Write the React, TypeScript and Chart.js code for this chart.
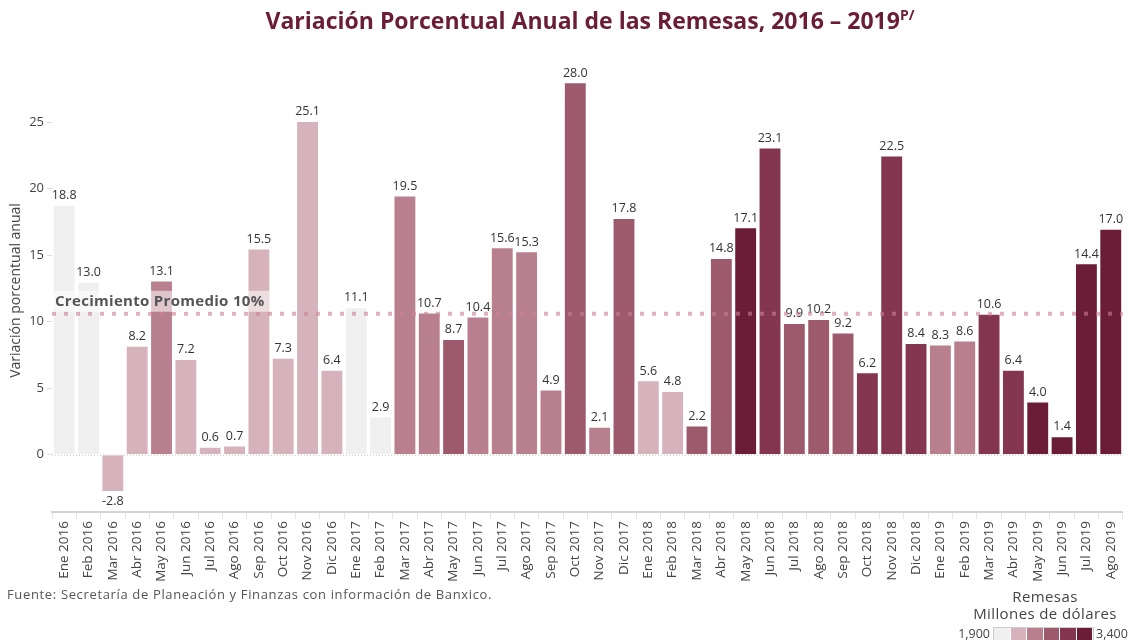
import React, { useEffect, useRef } from "react";
import { Chart, registerables } from "chart.js";

Chart.register(...registerables);

const months: string[] = [
  "Ene 2016", "Feb 2016", "Mar 2016", "Abr 2016", "May 2016", "Jun 2016", "Jul 2016", "Ago 2016", "Sep 2016", "Oct 2016", "Nov 2016", "Dic 2016",
  "Ene 2017", "Feb 2017", "Mar 2017", "Abr 2017", "May 2017", "Jun 2017", "Jul 2017", "Ago 2017", "Sep 2017", "Oct 2017", "Nov 2017", "Dic 2017",
  "Ene 2018", "Feb 2018", "Mar 2018", "Abr 2018", "May 2018", "Jun 2018", "Jul 2018", "Ago 2018", "Sep 2018", "Oct 2018", "Nov 2018", "Dic 2018",
  "Ene 2019", "Feb 2019", "Mar 2019", "Abr 2019", "May 2019", "Jun 2019", "Jul 2019", "Ago 2019",
];

const variacion: number[] = [
  18.8, 13.0, -2.8, 8.2, 13.1, 7.2, 0.6, 0.7, 15.5, 7.3, 25.1, 6.4,
  11.1, 2.9, 19.5, 10.7, 8.7, 10.4, 15.6, 15.3, 4.9, 28.0, 2.1, 17.8,
  5.6, 4.8, 2.2, 14.8, 17.1, 23.1, 9.9, 10.2, 9.2, 6.2, 22.5, 8.4,
  8.3, 8.6, 10.6, 6.4, 4.0, 1.4, 14.4, 17.0,
];

// Remittance-level bin (0 = 1,900 ... 5 = 3,400 millones de dólares)
const nivelRemesas: number[] = [
  0, 0, 1, 1, 2, 1, 1, 1, 1, 1, 1, 1,
  0, 0, 2, 2, 3, 2, 2, 2, 2, 3, 2, 3,
  1, 1, 3, 3, 5, 4, 3, 3, 3, 4, 4, 4,
  2, 2, 4, 4, 5, 5, 5, 5,
];

const paleta: string[] = ["#f0f0f0", "#d6b3bc", "#b8808f", "#9d5a6c", "#843650", "#6b1c36"];

const yTicks: number[] = [0, 5, 10, 15, 20, 25];
const promedio = 10.6;
const promedioLabel = "Crecimiento Promedio 10%";
const legendMin = "1,900";
const legendMax = "3,400";

const FONT = "'Open Sans', sans-serif";

export default function App() {
  const ref = useRef<HTMLCanvasElement | null>(null);

  useEffect(() => {
    if (!ref.current) return;

    const overlay = {
      id: "overlay",
      beforeDatasetsDraw(chart: any) {
        const { ctx, chartArea, scales } = chart;
        const y0 = scales.y.getPixelForValue(0);
        ctx.save();
        ctx.strokeStyle = "#c8c8c8";
        ctx.lineWidth = 1;
        ctx.setLineDash([1, 2]);
        ctx.beginPath();
        ctx.moveTo(chartArea.left, y0 + 0.5);
        ctx.lineTo(chartArea.right, y0 + 0.5);
        ctx.stroke();
        ctx.restore();
      },
      afterDatasetsDraw(chart: any) {
        const { ctx, chartArea, scales } = chart;
        const meta = chart.getDatasetMeta(0);
        ctx.save();
        // value labels
        ctx.font = `12.5px ${FONT}`;
        ctx.fillStyle = "#333";
        ctx.textAlign = "center";
        meta.data.forEach((bar: any, i: number) => {
          const v = variacion[i];
          if (v >= 0) {
            ctx.textBaseline = "bottom";
            ctx.fillText(v.toFixed(1), bar.x, bar.y - 3);
          } else {
            ctx.textBaseline = "top";
            ctx.fillText(v.toFixed(1), bar.x, bar.y + 3);
          }
        });
        // average line
        const ya = scales.y.getPixelForValue(promedio);
        ctx.strokeStyle = "rgba(205,125,150,0.6)";
        ctx.lineWidth = 4;
        ctx.setLineDash([4, 8]);
        ctx.beginPath();
        ctx.moveTo(chartArea.left, ya);
        ctx.lineTo(chartArea.right, ya);
        ctx.stroke();
        ctx.setLineDash([]);
        // average label
        ctx.font = `bold 15px ${FONT}`;
        try { (ctx as any).letterSpacing = "0.3px"; } catch (e) {}
        const tw = ctx.measureText(promedioLabel).width;
        ctx.fillStyle = "rgba(255,255,255,0.55)";
        ctx.fillRect(chartArea.left, ya - 23, tw + 8, 21);
        ctx.fillStyle = "#555";
        ctx.textAlign = "left";
        ctx.textBaseline = "middle";
        ctx.fillText(promedioLabel, chartArea.left + 3, ya - 12);
        ctx.restore();
      },
    };

    const chart = new Chart(ref.current, {
      type: "bar",
      data: {
        labels: months,
        datasets: [
          {
            data: variacion,
            backgroundColor: nivelRemesas.map((n) => paleta[n]),
            borderColor: "rgba(255,255,255,0.45)",
            borderWidth: 1,
            categoryPercentage: 1,
            barPercentage: 0.94,
          },
        ],
      },
      options: {
        animation: false,
        responsive: false,
        maintainAspectRatio: false,
        layout: { padding: { top: 69, left: 0, right: 4, bottom: 0 } },
        plugins: {
          legend: { display: false },
          tooltip: { enabled: false },
          title: { display: false },
        },
        scales: {
          x: {
            grid: { display: true, drawOnChartArea: false, drawTicks: true, tickLength: 7, color: "#e6e6e6", offset: true },
            border: { display: true, color: "#d4d4d4", width: 2 },
            ticks: {
              minRotation: 90,
              maxRotation: 90,
              autoSkip: false,
              color: "#444",
              padding: 2,
              font: { family: FONT, size: 13.5 },
            },
            afterFit(scale: any) {
              scale.height = 128;
            },
          },
          y: {
            min: -4.3,
            max: 29,
            afterBuildTicks(scale: any) {
              scale.ticks = yTicks.map((v) => ({ value: v }));
            },
            grid: { display: true, drawOnChartArea: false, drawTicks: true, tickLength: 5, color: "#dcdcdc" },
            border: { display: false },
            ticks: {
              color: "#444",
              padding: 3,
              font: { family: FONT, size: 13 },
              callback: (v: any) => String(v),
            },
            title: {
              display: true,
              text: "Variación porcentual anual",
              color: "#444",
              font: { family: FONT, size: 14 },
              padding: { top: 8, bottom: 0 },
            },
            afterFit(scale: any) {
              scale.width = 52;
            },
          },
        },
      },
      plugins: [overlay],
    });

    return () => chart.destroy();
  }, []);

  return (
    <div style={{ position: "fixed", left: 0, top: 0, width: 1129, height: 640, background: "#fff", overflow: "hidden", fontFamily: FONT }}>
      <canvas ref={ref} width={1129} height={640} style={{ position: "absolute", left: 0, top: 0, width: 1129, height: 640 }} />
      <div style={{ position: "absolute", left: 0, top: 4, width: 1180, textAlign: "center", color: "#6b1c36", fontWeight: 700, fontSize: 23, whiteSpace: "nowrap" }}>
        Variación Porcentual Anual de las Remesas, 2016 – 2019<sup style={{ fontSize: 14 }}>P/</sup>
      </div>
      <div style={{ position: "absolute", left: 7, top: 585, color: "#555", fontSize: 13, letterSpacing: "0.65px", whiteSpace: "nowrap" }}>
        Fuente: Secretaría de Planeación y Finanzas con información de Banxico.
      </div>
      <div style={{ position: "absolute", left: 955, top: 588, width: 180, textAlign: "center", color: "#444", fontSize: 15, letterSpacing: "0.4px", lineHeight: "17px" }}>
        <div>Remesas</div>
        <div>Millones de dólares</div>
      </div>
      <div style={{ position: "absolute", left: 940, top: 626, width: 50, textAlign: "right", color: "#444", fontSize: 12.5, lineHeight: "16px" }}>{legendMin}</div>
      <div style={{ position: "absolute", left: 993, top: 627, display: "flex", border: "1px solid #ccc" }}>
        {paleta.map((c) => (
          <span key={c} style={{ display: "inline-block", width: 15.5, height: 14, background: c, borderRight: "1px solid #fff" }} />
        ))}
      </div>
      <div style={{ position: "absolute", left: 1096, top: 626, color: "#444", fontSize: 12.5, lineHeight: "16px" }}>{legendMax}</div>
    </div>
  );
}
